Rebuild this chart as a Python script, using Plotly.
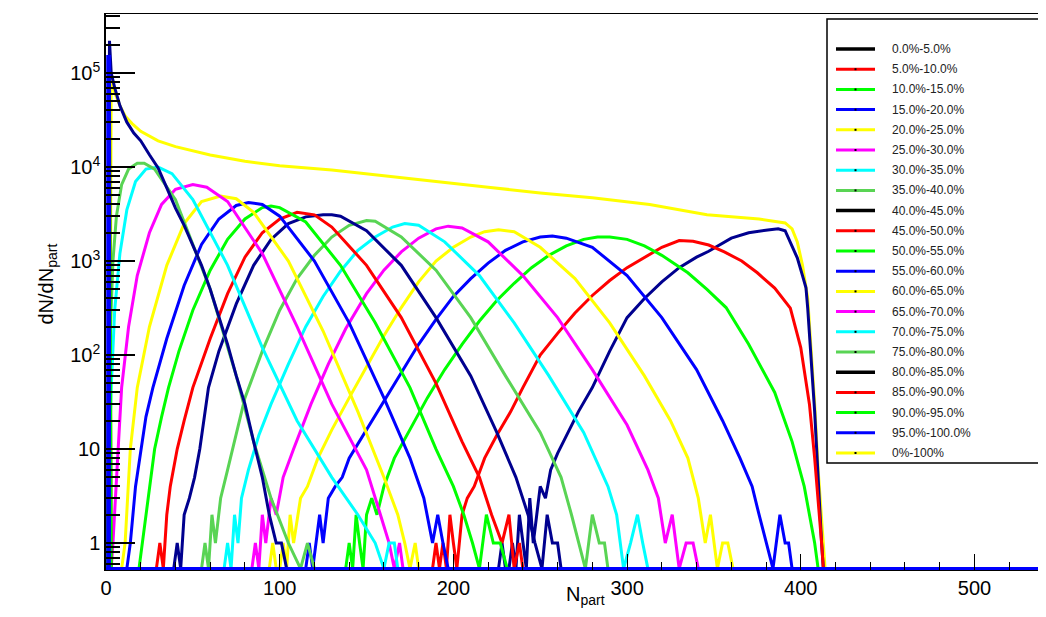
import plotly.graph_objects as go

# ---------------- data ----------------
class_labels = ["0.0%-5.0%", "5.0%-10.0%", "10.0%-15.0%", "15.0%-20.0%", "20.0%-25.0%",
                "25.0%-30.0%", "30.0%-35.0%", "35.0%-40.0%", "40.0%-45.0%", "45.0%-50.0%",
                "50.0%-55.0%", "55.0%-60.0%", "60.0%-65.0%", "65.0%-70.0%", "70.0%-75.0%",
                "75.0%-80.0%", "80.0%-85.0%", "85.0%-90.0%", "90.0%-95.0%", "95.0%-100.0%"]
total_label = "0%-100%"

npart_total = [2, 3, 5, 8, 11, 15, 20, 30, 40, 60, 80, 100, 130, 160, 190, 220, 250, 280, 313, 346, 376, 391, 395, 398, 401, 404, 406, 408, 410, 412, 414]
dndn_total = [0, 100000, 62000, 45000, 35000, 29000, 24000, 19000, 16500, 13400, 11500, 10300, 9300, 8000, 7000, 6100, 5300, 4700, 4000, 3100, 2800, 2540, 2200, 1600, 900, 400, 120, 30, 6, 2, 0]

npart_00_05 = [226, 228, 230, 232, 234, 236, 238, 240, 242, 244, 246, 248, 250, 253, 256, 260, 266, 272, 280, 290, 300, 310, 320, 330, 340, 347, 360, 370, 381, 387, 391, 394, 398, 401, 403, 404, 406, 408, 410, 411, 412, 413]
dndn_00_05 = [0, 1, 0, 0, 1, 0, 2, 1, 0, 3, 1, 2, 4, 3, 6, 9, 15, 25, 45, 110, 250, 400, 600, 850, 1100, 1270, 1750, 2000, 2140, 2200, 2100, 1550, 1080, 700, 520, 316, 100, 25, 5, 2, 1, 0]

npart_05_10 = [188, 190, 192, 194, 196, 198, 200, 202, 205, 208, 212, 218, 225, 233, 240, 250, 260, 270, 280, 290, 300, 310, 320, 330, 338, 347, 356, 366, 375, 385, 394, 400, 405, 408, 410, 412, 413]
dndn_05_10 = [0, 1, 0, 1, 0, 2, 1, 0, 2, 3, 4, 8, 14, 25, 45, 100, 170, 280, 430, 620, 850, 1100, 1400, 1650, 1620, 1480, 1250, 1000, 750, 515, 316, 120, 30, 8, 3, 1, 0]

npart_10_15 = [138, 140, 142, 144, 146, 148, 150, 153, 156, 160, 166, 175, 185, 195, 205, 215, 225, 235, 245, 255, 265, 275, 283, 290, 300, 310, 320, 335, 346, 357, 370, 385, 395, 402, 405, 408, 410]
dndn_10_15 = [0, 1, 0, 2, 1, 0, 2, 3, 2, 4, 8, 16, 35, 70, 130, 230, 380, 580, 850, 1150, 1450, 1700, 1800, 1800, 1700, 1450, 1150, 750, 500, 320, 130, 40, 12, 4, 2, 1, 0]

npart_15_20 = [115, 117, 119, 121, 123, 125, 128, 132, 136, 140, 150, 160, 170, 180, 190, 200, 210, 220, 230, 240, 250, 257, 265, 280, 300, 320, 340, 355, 365, 372, 376, 380, 384, 388, 391, 393, 395]
dndn_15_20 = [0, 1, 0, 1, 2, 1, 3, 4, 5, 8, 16, 32, 65, 130, 240, 420, 650, 950, 1300, 1600, 1800, 1850, 1750, 1400, 700, 250, 70, 20, 8, 4, 2, 1, 0, 2, 1, 1, 0]

npart_20_25 = [94, 96, 98, 100, 102, 104, 106, 108, 112, 116, 122, 130, 140, 150, 160, 170, 180, 190, 200, 210, 218, 226, 235, 250, 270, 290, 310, 325, 335, 341, 345, 348, 352, 355, 358, 361]
dndn_20_25 = [0, 1, 0, 0, 1, 0, 2, 1, 3, 4, 8, 16, 35, 75, 160, 320, 600, 1000, 1400, 1800, 2050, 2150, 2050, 1400, 650, 220, 60, 20, 8, 3, 1, 2, 0, 1, 1, 0]

npart_25_30 = [84, 86, 88, 90, 92, 95, 98, 102, 108, 118, 128, 138, 150, 160, 170, 180, 190, 197, 205, 220, 240, 260, 280, 300, 312, 318, 322, 326, 330, 334, 338, 341]
dndn_25_30 = [0, 1, 0, 2, 1, 3, 2, 5, 10, 30, 80, 190, 450, 800, 1250, 1750, 2200, 2350, 2250, 1600, 700, 250, 70, 18, 6, 3, 1, 2, 0, 1, 1, 0]

npart_30_35 = [68, 70, 72, 74, 76, 78, 82, 88, 95, 105, 115, 125, 135, 145, 155, 165, 172, 180, 195, 215, 235, 255, 275, 289, 294, 298, 302, 306, 309, 312]
dndn_30_35 = [0, 1, 0, 2, 1, 3, 6, 14, 30, 80, 200, 420, 780, 1300, 1800, 2300, 2500, 2400, 1600, 700, 220, 60, 15, 4, 2, 0, 1, 2, 1, 0]

npart_35_40 = [55, 57, 59, 61, 63, 66, 70, 75, 80, 90, 100, 110, 120, 130, 140, 150, 155, 170, 190, 210, 230, 250, 262, 268, 272, 276, 280, 284, 287, 289]
dndn_35_40 = [0, 1, 0, 2, 1, 3, 6, 15, 35, 110, 300, 650, 1150, 1800, 2400, 2700, 2650, 1800, 800, 250, 60, 15, 5, 2, 1, 0, 2, 1, 1, 0]

npart_40_45 = [39, 41, 43, 45, 48, 51, 54, 59, 65, 75, 85, 95, 105, 115, 125, 130, 135, 150, 170, 190, 210, 225, 236, 243, 247, 251, 254, 257, 260, 262]
dndn_40_45 = [0, 1, 0, 2, 3, 5, 10, 45, 110, 350, 900, 1700, 2500, 2950, 3100, 3100, 3000, 2100, 900, 250, 60, 15, 5, 2, 1, 0, 2, 1, 1, 0]

npart_45_50 = [29, 31, 33, 35, 37, 41, 45, 50, 60, 70, 80, 90, 100, 110, 120, 130, 150, 170, 190, 205, 215, 222, 228, 232, 235, 238, 240]
dndn_45_50 = [0, 1, 0, 2, 4, 10, 20, 45, 150, 450, 1100, 2000, 2800, 3300, 3100, 2300, 900, 250, 50, 12, 5, 2, 1, 2, 0, 1, 0]

npart_50_55 = [19, 21, 23, 25, 28, 32, 36, 42, 50, 60, 70, 80, 90, 95, 100, 115, 135, 155, 175, 190, 200, 206, 211, 215, 219, 223, 227, 231]
dndn_50_55 = [0, 1, 2, 4, 10, 22, 45, 110, 300, 800, 1700, 2800, 3700, 3850, 3700, 2600, 900, 220, 45, 10, 4, 2, 1, 0, 2, 1, 1, 0]

npart_55_60 = [12, 14, 17, 20, 23, 27, 35, 45, 55, 65, 75, 82, 90, 100, 120, 140, 160, 175, 183, 188, 191, 194, 197]
dndn_55_60 = [0, 1, 4, 10, 22, 45, 150, 550, 1500, 2800, 3900, 4200, 4000, 3000, 1000, 220, 35, 8, 3, 1, 2, 1, 0]

npart_60_65 = [9, 11, 14, 18, 25, 35, 45, 55, 66, 75, 85, 105, 125, 145, 160, 168, 172, 175, 178, 180]
dndn_60_65 = [0, 1, 10, 45, 200, 900, 2500, 4300, 4900, 4600, 3300, 1000, 180, 25, 5, 2, 1, 0, 1, 0]

npart_65_70 = [3, 4, 7, 9, 13, 18, 25, 32, 40, 50, 58, 70, 90, 110, 130, 150, 158, 163, 166, 169, 171]
dndn_65_70 = [0, 1, 10, 45, 200, 700, 2000, 4000, 5800, 6500, 6100, 4300, 1200, 200, 30, 6, 2, 1, 0, 1, 0]

npart_70_75 = [1, 2, 3, 5, 8, 12, 17, 23, 30, 38, 50, 70, 90, 110, 130, 145, 155, 160, 163, 166, 168]
dndn_70_75 = [0, 10, 45, 300, 1200, 3500, 7000, 9500, 10000, 8500, 4500, 900, 120, 20, 5, 2, 1, 0, 1, 1, 0]

npart_75_80 = [1, 2, 4, 6, 9, 13, 18, 22, 28, 40, 60, 75, 85, 95, 105, 112, 116, 120]
dndn_75_80 = [0, 100, 1000, 3000, 6500, 9500, 11000, 11000, 9500, 4500, 500, 60, 12, 3, 1, 0, 1, 0]

npart_80_85 = [1, 2, 3, 5, 8, 12, 16, 20, 25, 30, 35, 40, 45, 50, 55, 60, 65, 70, 75, 80, 85, 90, 94, 98, 101, 104]
dndn_80_85 = [0, 220000, 100000, 70000, 45000, 30000, 23000, 19000, 13500, 9800, 6000, 3650, 2400, 1500, 900, 500, 260, 130, 60, 30, 12, 5, 2, 1, 1, 0]

npart_85_90 = [1, 2, 3]
dndn_85_90 = [0, 60000, 0]

npart_90_95 = [1, 2, 3]
dndn_90_95 = [0, 80000, 0]

npart_95_100 = [0, 1, 2, 546]
dndn_95_100 = [0, 150000, 0, 0]

class_npart = [npart_00_05, npart_05_10, npart_10_15, npart_15_20, npart_20_25, npart_25_30,
               npart_30_35, npart_35_40, npart_40_45, npart_45_50, npart_50_55, npart_55_60,
               npart_60_65, npart_65_70, npart_70_75, npart_75_80, npart_80_85, npart_85_90,
               npart_90_95, npart_95_100]
class_dndn = [dndn_00_05, dndn_05_10, dndn_10_15, dndn_15_20, dndn_20_25, dndn_25_30,
              dndn_30_35, dndn_35_40, dndn_40_45, dndn_45_50, dndn_50_55, dndn_55_60,
              dndn_60_65, dndn_65_70, dndn_70_75, dndn_75_80, dndn_80_85, dndn_85_90,
              dndn_90_95, dndn_95_100]

x_tick_vals = [0, 100, 200, 300, 400, 500]
y_tick_vals = [1, 10, 100, 1000, 10000, 100000]
y_tick_text = ["1", "10", "10<sup>2</sup>", "10<sup>3</sup>", "10<sup>4</sup>", "10<sup>5</sup>"]

# ---------------- style ----------------
NAVY = "#00008f"
cycle_plot = [NAVY, "#ff0000", "#00ff00", "#0000ff", "#ffff00", "#ff00ff", "#00ffff", "#59d454"]
cycle_legend = ["#000000", "#ff0000", "#00ff00", "#0000ff", "#ffff00", "#ff00ff", "#00ffff", "#59d454"]

W, H = 1046, 617
ML, MR, MT, MB = 98, 0, 6, 55
PW, PH = W - ML - MR, H - MT - MB
X_MAX = 545.8
LOG_MIN, LOG_MAX = -0.287, 5.628
FLOOR = 10 ** -0.272   # empty bins are drawn on the bottom of the frame (as ROOT does)


def px_x(p):
    return (p - ML) / PW


def px_y(p):
    return 1 - (p - MT) / PH


def shown(vals):
    return [v if v > 0 else FLOOR for v in vals]


fig = go.Figure()

fig.add_trace(go.Scatter(x=npart_total, y=shown(dndn_total), mode="lines",
                         line=dict(color="#ffff00", width=3), hoverinfo="skip", showlegend=False))
for i, (xs, ys) in enumerate(zip(class_npart, class_dndn)):
    fig.add_trace(go.Scatter(x=xs, y=shown(ys), mode="lines",
                             line=dict(color=cycle_plot[i % 8], width=3,
                                       shape="hv" if i == 19 else "linear"),
                             hoverinfo="skip", showlegend=False))

minor_y = [k * 10 ** n for n in range(-1, 6) for k in range(2, 10)]
minor_y = [v for v in minor_y if 10 ** LOG_MIN < v < 10 ** LOG_MAX]

fig.update_xaxes(range=[0, X_MAX], showgrid=False, zeroline=False,
                 showline=True, linecolor="black", linewidth=1, mirror=True,
                 tickmode="array", tickvals=x_tick_vals, ticks="inside", ticklen=16,
                 tickcolor="black", tickwidth=1,
                 minor=dict(dtick=20, ticks="inside", ticklen=8, tickcolor="black", tickwidth=1, showgrid=False),
                 tickfont=dict(family="Liberation Sans, Arial", size=20, color="black"))
fig.update_yaxes(type="log", range=[LOG_MIN, LOG_MAX], showgrid=False, zeroline=False,
                 showline=True, linecolor="black", linewidth=1.5, mirror=False,
                 tickmode="array", tickvals=y_tick_vals, ticktext=y_tick_text,
                 ticks="inside", ticklen=29, tickcolor="black", tickwidth=1.5,
                 minor=dict(tickmode="array", tickvals=minor_y, ticks="inside", ticklen=14,
                            tickcolor="black", tickwidth=1.5, showgrid=False),
                 tickfont=dict(family="Liberation Sans, Arial", size=20, color="black"))

annotations = [
    dict(text="dN/dN<sub>part</sub>", xref="paper", yref="paper", x=px_x(24), y=px_y(276),
         textangle=-90, showarrow=False, font=dict(family="Liberation Sans, Arial", size=20, color="black")),
    dict(text="N<sub>part</sub>", xref="paper", yref="paper", x=px_x(577), y=px_y(602),
         showarrow=False, font=dict(family="Liberation Sans, Arial", size=20, color="black")),
]
shapes = []

# legend (drawn by hand to match the ROOT TLegend box)
LEG_X0, LEG_X1, LEG_Y0, LEG_Y1 = 819, 1042, 11, 455
shapes.append(dict(type="rect", xref="paper", yref="paper", x0=px_x(LEG_X0), x1=px_x(LEG_X1),
                   y0=px_y(LEG_Y1), y1=px_y(LEG_Y0), line=dict(color="black", width=1.5),
                   fillcolor="white", layer="above"))
legend_labels = class_labels + [total_label]
legend_colors = [cycle_legend[i % 8] for i in range(20)] + ["#ffff00"]
for i, (lab, col) in enumerate(zip(legend_labels, legend_colors)):
    yc = 41 + i * 20.2
    shapes.append(dict(type="line", xref="paper", yref="paper", x0=px_x(828), x1=px_x(867),
                       y0=px_y(yc), y1=px_y(yc), line=dict(color=col, width=3.5 if col == "#000000" else 3),
                       layer="above"))
    if col != "#000000":
        shapes.append(dict(type="rect", xref="paper", yref="paper", x0=px_x(846.5), x1=px_x(848.5),
                           y0=px_y(yc + 1), y1=px_y(yc - 1), line=dict(width=0), fillcolor="black",
                           layer="above"))
    annotations.append(dict(text=lab, xref="paper", yref="paper", x=px_x(882), y=px_y(yc),
                            xanchor="left", yanchor="middle", showarrow=False,
                            font=dict(family="Liberation Sans, Arial", size=12, color="#222222")))

fig.update_layout(width=W, height=H, margin=dict(l=ML, r=MR, t=MT, b=MB),
                  paper_bgcolor="white", plot_bgcolor="white", showlegend=False,
                  annotations=annotations, shapes=shapes)

fig.write_html("out.html")
